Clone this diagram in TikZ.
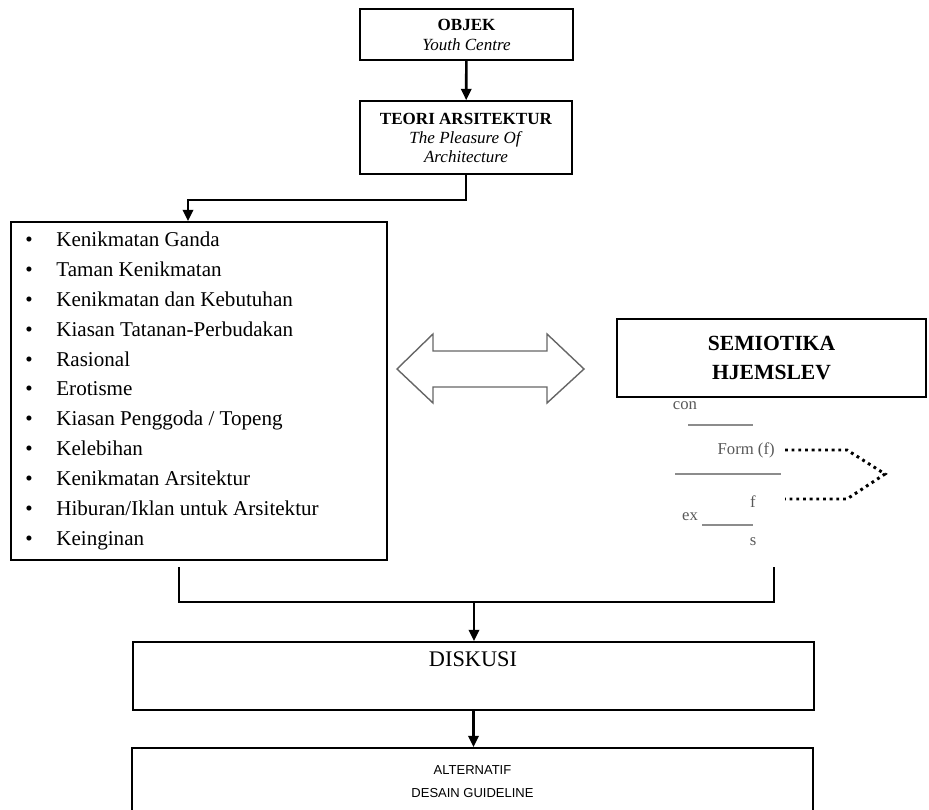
\documentclass[tikz,border=0pt]{standalone}
\usepackage{fontspec}
\setmainfont{Liberation Serif}
\newfontfamily\sansteks{Liberation Sans}
\usetikzlibrary{arrows.meta}

\begin{document}
\begin{tikzpicture}[
    x=0.02cm, y=-0.02cm,
    kotak/.style={draw, line width=0.9pt, inner sep=0pt, align=center},
    panah/.style={-{Triangle[length=6.5pt, width=5.8pt]}, line width=1.5pt},
    garis/.style={line width=1.5pt},
    butir/.style={font=\fontsize{12}{14}\selectfont, inner sep=0pt, anchor=base west},
    kecil/.style={font=\fontsize{9.5}{11}\selectfont, text=black!65, inner sep=0pt},
    tipis/.style={black!45, line width=0.6pt},
    titik/.style={line width=1.7pt, dash pattern=on 1.6pt off 2.2pt},
    abu/.style={draw=black!60, line width=0.8pt, line join=miter}
  ]
  \clip (0,0) rectangle (929,810);
  \node[kotak, minimum width=4.26cm, minimum height=1.02cm, font=\fontsize{9.7}{11.4}\selectfont] (objek) at (466.5,34.5) {\textbf{OBJEK}\\\textit{Youth Centre}};
  \node[kotak, minimum width=4.24cm, minimum height=1.46cm, font=\fontsize{9.7}{10.8}\selectfont] (teori) at (466,137.5) {\textbf{TEORI ARSITEKTUR}\\\textit{The Pleasure Of}\\\textit{Architecture}};
  \draw[panah] (objek) -- (teori);
  \node[kotak, minimum width=7.52cm, minimum height=6.76cm] (daftar) at (199,391) {};
  \coordinate (siku) at (188,200);
  \draw[panah] (teori.south) |- (siku) -- (siku |- daftar.north);
  \foreach \teks [count=\i] in {Kenikmatan Ganda, Taman Kenikmatan, Kenikmatan dan Kebutuhan, Kiasan Tatanan-Perbudakan, Rasional, Erotisme, {Kiasan Penggoda / Topeng}, Kelebihan, Kenikmatan Arsitektur, {Hiburan/Iklan untuk Arsitektur}, Keinginan} {
    \node[butir] (bul-\i) at (25,247+29.8*\i-29.8) {\large\textbullet};
    \node[butir] (item-\i) at (56,247+29.8*\i-29.8) {\teks};
  }
  \draw[abu] (397,369) -- (433,334) -- (433,351) -- (547,351) -- (547,334) -- (584,369) -- (547,403) -- (547,387) -- (433,387) -- (433,403) -- cycle;
  \node[kotak, minimum width=6.18cm, minimum height=1.56cm, font=\fontsize{12.3}{17}\selectfont\bfseries] (semiotika) at (771.5,358) {SEMIOTIKA\\HJEMSLEV};
  \node[kecil] (con) at (685,406) {con};
  \draw[tipis] (688,425) -- (753,425);
  \node[kecil, anchor=east] (form) at (775,450) {Form (f)};
  \draw[tipis] (675,474) -- (781,474);
  \node[kecil] (f) at (753,502) {f};
  \node[kecil] (ex) at (690,517) {ex};
  \draw[tipis] (702,525) -- (753,525);
  \node[kecil] (s) at (753,542) {s};
  \coordinate (ujung) at (885,474);
  \draw[titik] ([xshift=0.2cm]form.east) -- (847,450) -- (ujung) -- (847,499) -- (785,499);
  \node[kotak, minimum width=13.62cm, minimum height=1.36cm] (diskusi) at (473.5,676) {};
  \node[font=\fontsize{12.7}{15}\selectfont] (diskusi-teks) at (473,659) {DISKUSI};
  \coordinate (kiri) at (179,567);
  \coordinate (kanan) at (774,567);
  \coordinate (temu) at (474,602);
  \draw[garis] (kiri) |- (temu) -| (kanan);
  \draw[panah] (temu) -- (temu |- diskusi.north);
  \node[kotak, minimum width=13.62cm, minimum height=1.34cm, font=\sansteks\fontsize{7.4}{13}\selectfont] (alternatif) at (472.5,781.5) {ALTERNATIF\\DESAIN GUIDELINE};
  \draw[panah] (diskusi.south) -- (diskusi.south |- alternatif.north);
\end{tikzpicture}
\end{document}
